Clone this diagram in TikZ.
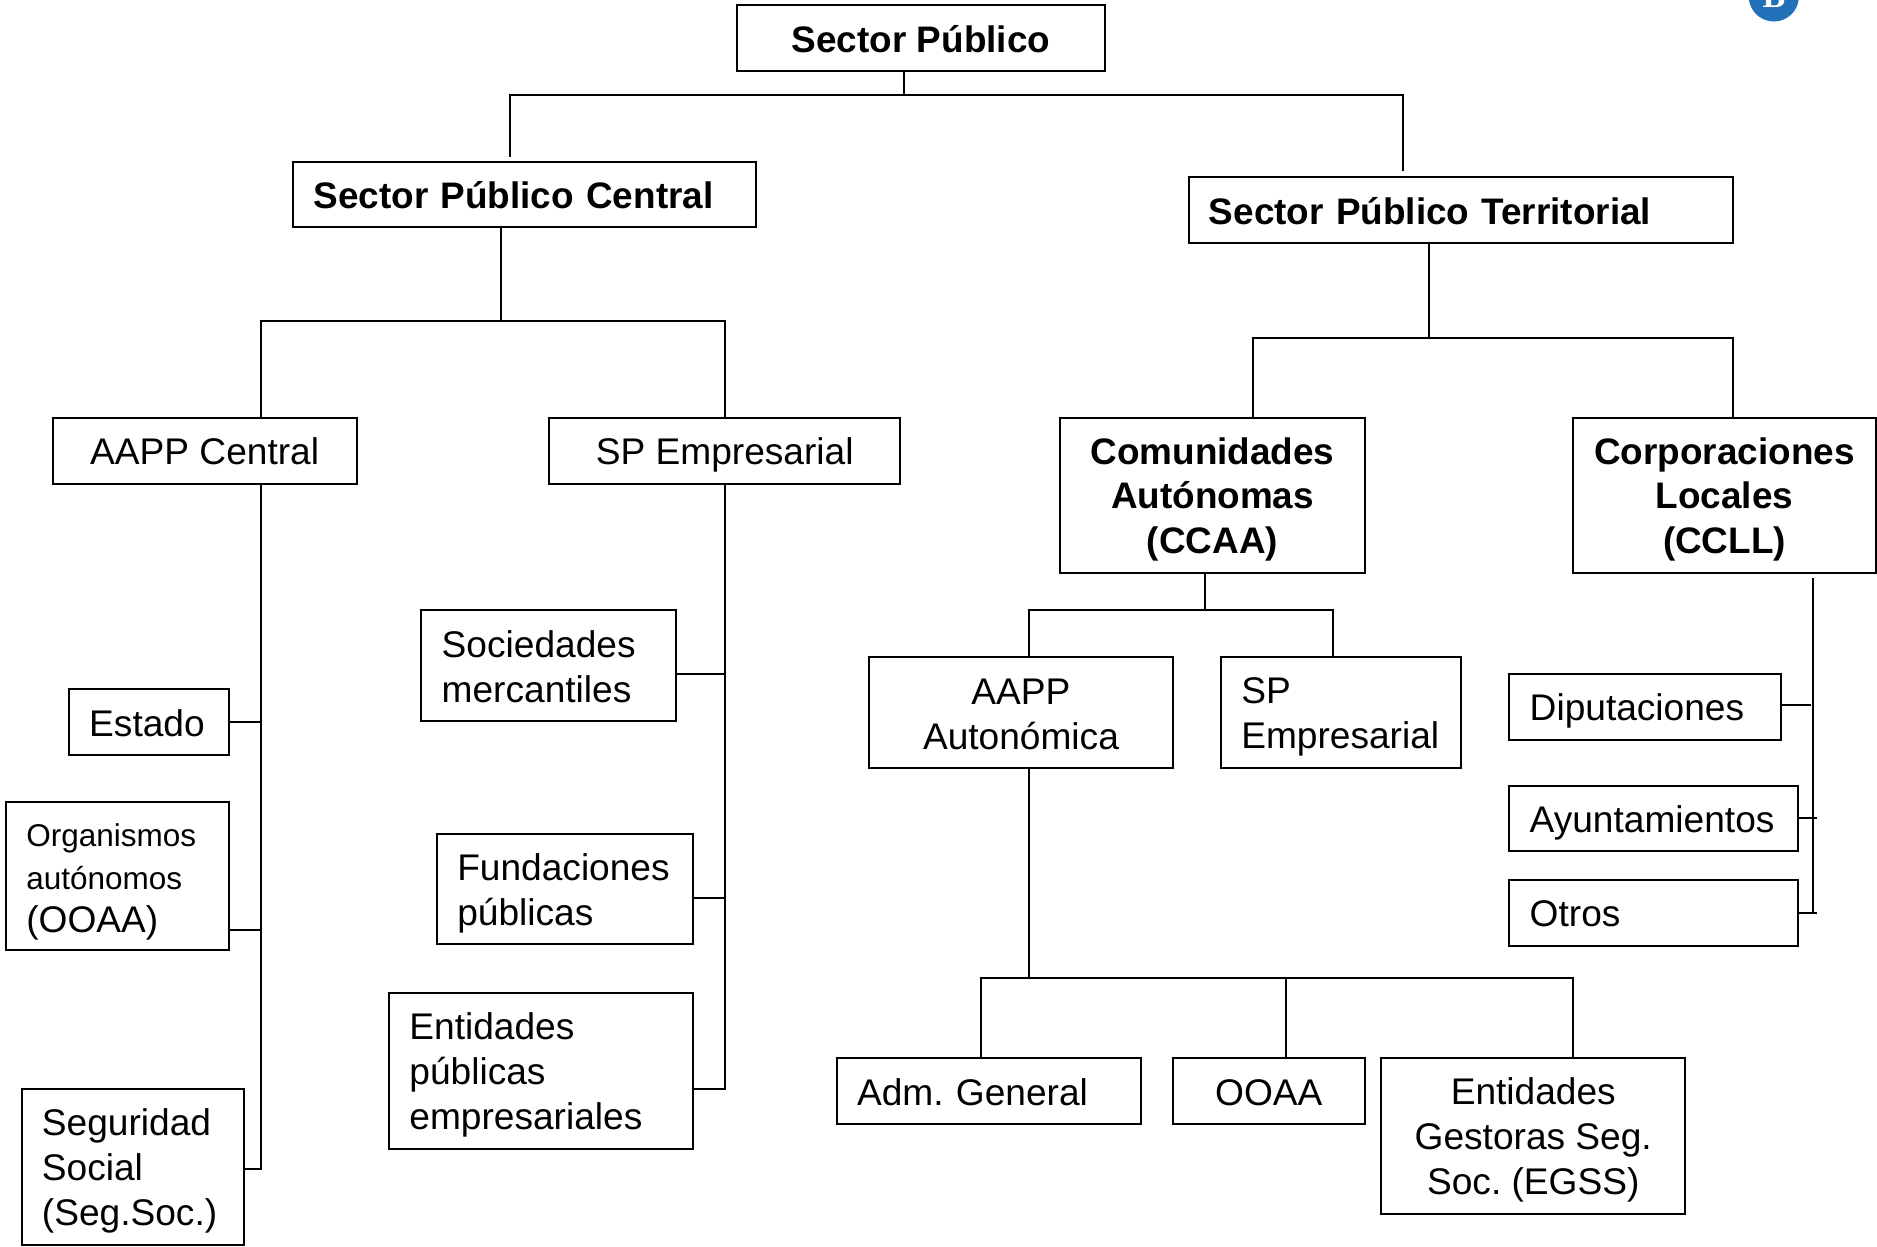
\documentclass[tikz,border=0pt]{standalone}
\usepackage{fontspec}
\setmainfont{Liberation Sans}
\definecolor{logoblue}{HTML}{2271B8}
\newcommand{\topstr}{\rule{0pt}{17.2pt}}
\newcommand{\botstr}{\rule[-2.9pt]{0pt}{2.9pt}}
\tikzset{
  boxbase/.style={draw=black, line width=1pt, rectangle, inner ysep=0pt, outer sep=0pt, text=black,
     font=\fontsize{18.55}{22.4}\selectfont\frenchspacing},
  centerbox/.style={boxbase, inner xsep=0pt, align=center},
  leftbox/.style={boxbase, inner xsep=10.2pt, align=left},
  strong/.style={font=\fontsize{18.45}{22.4}\selectfont\frenchspacing\bfseries},
  link/.style={draw=black, line width=1pt, line cap=butt, line join=miter},
}
\newcommand{\cbx}[7][]{%
  \pgfmathsetmacro\bxw{(#5-#3)*0.5985}\pgfmathsetmacro\bxh{(#6-#4)*0.5985}%
  \pgfmathsetmacro\bxcx{(#3+#5)/2}\pgfmathsetmacro\bxcy{(#4+#6)/2}%
  \node[centerbox,#1,minimum width=\bxw pt,minimum height=\bxh pt] (#2) at (\bxcx,\bxcy) {\topstr #7\botstr};}
\newcommand{\lbx}[7][]{%
  \pgfmathsetmacro\bxw{(#5-#3)*0.5985}\pgfmathsetmacro\bxh{(#6-#4)*0.5985}%
  \pgfmathsetmacro\bxt{(#5-#3)*0.5985-20.4}%
  \pgfmathsetmacro\bxcx{(#3+#5)/2}\pgfmathsetmacro\bxcy{(#4+#6)/2}%
  \node[leftbox,#1,text width=\bxt pt,minimum height=\bxh pt] (#2) at (\bxcx,\bxcy) {\topstr #7\botstr};}
\begin{document}
\begin{tikzpicture}[x=0.5985pt,y=-0.5985pt]
\useasboundingbox (0,0) rectangle (1568.2,1041);
\begin{scope}
\clip (0,0) rectangle (1568.2,1041);
\node[circle,fill=logoblue,minimum size=25.1pt,inner sep=0pt,outer sep=0pt,text=white,
  font=\fontsize{17}{17}\selectfont\bfseries\rmfamily] (logo) at (1482,-3) {\fontspec{Liberation Serif}B};
\end{scope}

\cbx[strong]{spub}{616}{4}{923}{59}{Sector Público}
\lbx[strong]{spc}{245}{135}{632}{190}{Sector Público Central}
\lbx[strong]{spt}{993}{148}{1448}{203}{Sector Público Territorial}

\cbx{aappc}{44}{349}{298}{404}{AAPP Central}
\cbx{spe}{459}{349}{752}{404}{SP Empresarial}
\cbx[strong]{ccaa}{886}{349}{1140}{479}{Comunidades\\Autónomas\\(CCAA)}
\cbx[strong]{ccll}{1314}{349}{1567.5}{479}{Corporaciones\\Locales\\(CCLL)}

\lbx{soc}{352}{510}{565}{602}{Sociedades\\mercantiles}
\lbx{fun}{365}{697}{579}{789}{Fundaciones\\públicas}
\lbx{ent}{325}{830}{579}{960}{Entidades\\públicas\\empresariales}

\lbx{est}{57.5}{576}{191}{631}{Estado}
\lbx{org}{5}{670}{191}{794}{{\fontsize{15.75}{21.6}\selectfont Organismos\\[-0.8pt]autónomos}\\[-0.8pt](OOAA)}
\lbx{seg}{18}{910}{204}{1040}{Seguridad\\Social\\(Seg.Soc.)}

\cbx{aapa}{726}{549}{980}{642}{AAPP\\Autonómica}
\lbx{spe2}{1020}{549}{1221}{642}{SP\\Empresarial}

\lbx{dip}{1261}{563}{1488}{618}{Diputaciones}
\lbx{ayu}{1261}{657}{1502}{711}{Ayuntamientos}
\lbx{otr}{1261}{735}{1502}{790}{Otros}

\lbx{adm}{699}{884}{953}{939}{Adm. General}
\cbx{ooaa}{980}{884}{1140}{939}{OOAA}
\cbx{egss}{1154}{884}{1408}{1014}{Entidades\\Gestoras Seg.\\Soc. (EGSS)}

% junction points
\coordinate (j1) at (755,79);
\coordinate (j1l) at (426,79);
\coordinate (j1r) at (1172,79);
\coordinate (e1l) at (426,131);
\coordinate (e1r) at (1172,143);
\coordinate (j2) at (418.5,268);
\coordinate (j2l) at (218,268);
\coordinate (j2r) at (605.5,268);
\coordinate (j3) at (1193.5,282);
\coordinate (j3l) at (1047,282);
\coordinate (j3r) at (1448,282);
\coordinate (b1) at (218,977);
\coordinate (b2) at (605.5,910);
\coordinate (j4) at (1007,510);
\coordinate (j4l) at (860,510);
\coordinate (j4r) at (1114,510);
\coordinate (j5) at (860,817);
\coordinate (j5l) at (820,817);
\coordinate (j5m) at (1074,817);
\coordinate (j5r) at (1314,817);
\coordinate (t6) at (1515,483);
\coordinate (b6) at (1515,763);
\coordinate (e6d) at (1513,589);
\coordinate (e6a) at (1518,683);
\coordinate (e6o) at (1518,763);
\coordinate (t1) at (218,603);
\coordinate (t2) at (218,777);
\coordinate (t3) at (605.5,563);
\coordinate (t4) at (605.5,750);

\draw[link] (spub.south -| j1) -- (j1);
\draw[link] (e1l) -- (j1l) -- (j1r) -- (e1r);
\draw[link] (spc.south -| j2) -- (j2);
\draw[link] (aappc.north -| j2l) -- (j2l) -- (j2r) -- (spe.north -| j2r);
\draw[link] (spt.south -| j3) -- (j3);
\draw[link] (ccaa.north -| j3l) -- (j3l) -- (j3r) -- (ccll.north -| j3r);

\draw[link] (aappc.south -| b1) -- (b1) -- (seg.east |- b1);
\draw[link] (est.east |- t1) -- (t1);
\draw[link] (org.east |- t2) -- (t2);

\draw[link] (spe.south -| b2) -- (b2) -- (ent.east |- b2);
\draw[link] (soc.east |- t3) -- (t3);
\draw[link] (fun.east |- t4) -- (t4);

\draw[link] (ccaa.south -| j4) -- (j4);
\draw[link] (aapa.north -| j4l) -- (j4l) -- (j4r) -- (spe2.north -| j4r);

\draw[link] (aapa.south -| j5) -- (j5);
\draw[link] (adm.north -| j5l) -- (j5l) -- (j5r) -- (egss.north -| j5r);
\draw[link] (j5m) -- (ooaa.north -| j5m);

\draw[link] (t6) -- (b6);
\draw[link] (dip.east |- e6d) -- (e6d);
\draw[link] (ayu.east |- e6a) -- (e6a);
\draw[link] (otr.east |- e6o) -- (e6o);
\end{tikzpicture}
\end{document}
